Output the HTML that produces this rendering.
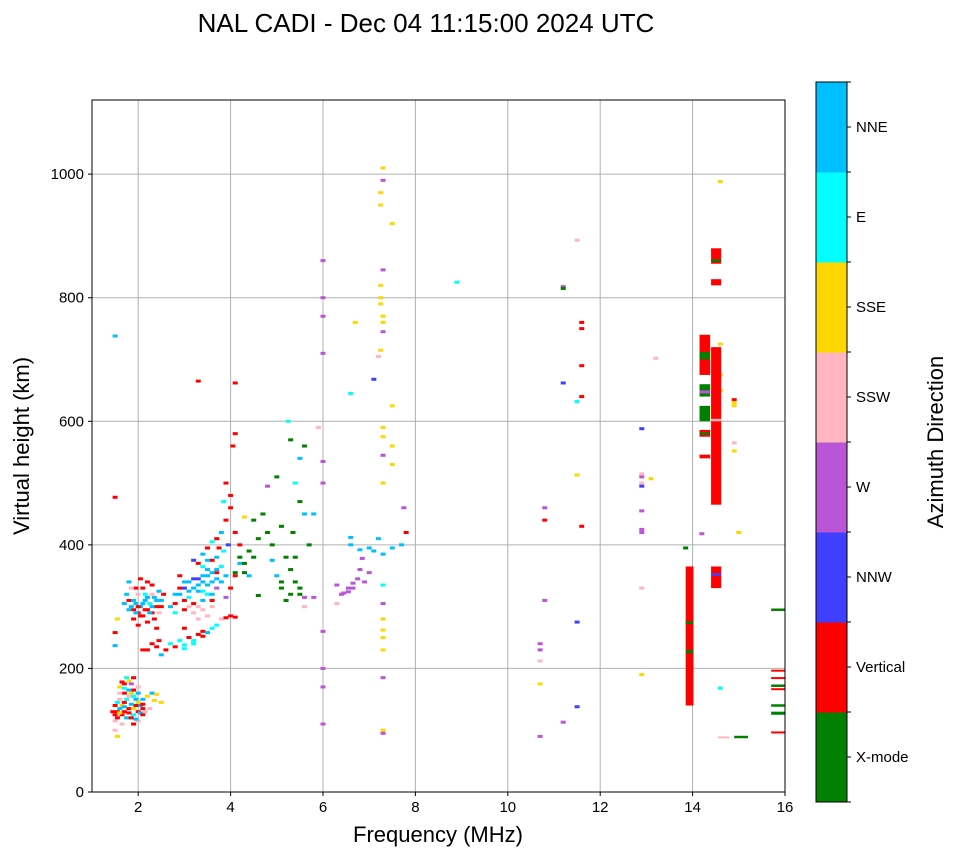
<!DOCTYPE html>
<html><head><meta charset="utf-8"><style>
body{margin:0;background:#fff;font-family:"Liberation Sans",sans-serif}
svg text{font-family:"Liberation Sans",sans-serif}
</style></head><body>
<svg id="chart" width="958" height="857" xmlns="http://www.w3.org/2000/svg">
<text x="426" y="32" font-size="26" text-anchor="middle">NAL CADI - Dec 04 11:15:00 2024 UTC</text>
<g id="grid"></g>
<g id="marks"></g>
<rect x="92" y="100" width="693" height="692" fill="none" stroke="#000" stroke-width="1"/>
<g id="axes"></g>
<text x="438" y="842" font-size="22" text-anchor="middle">Frequency (MHz)</text>
<text transform="translate(29,446) rotate(-90)" font-size="22" text-anchor="middle">Virtual height (km)</text>
<g id="cbar"></g>
<text transform="translate(943,442) rotate(-90)" font-size="22" text-anchor="middle">Azimuth Direction</text>
</svg>
<script>
const dirLabels=["X-mode","Vertical","NNW","W","SSW","SSE","E","NNE"];
const dirColors=["#008000","#ff0000","#3f3fff","#b956d6","#ffb6c1","#ffd700","#00ffff","#00bfff"];
const xTicks=[2,4,6,8,10,12,14,16];
const yTicks=[0,200,400,600,800,1000];
const echoes=[
[1.5,100,4],[1.5,115,4],[1.55,90,5],[1.5,125,1],[1.55,130,1],[1.6,135,7],[1.65,140,5],[1.7,145,1],[1.75,150,6],[1.8,155,4],[1.85,160,5],[1.9,165,1],[1.6,170,5],[1.7,175,1],[1.8,180,5],[1.75,185,6],[1.85,175,3],[1.95,150,7],[2.0,145,5],[2.05,140,7],[2.1,135,1],[2.0,130,1],[1.9,125,6],[1.8,120,5],[1.7,130,1],[1.65,125,1],[1.55,120,1],[1.6,150,4],[1.7,160,1],[1.95,140,1],[2.15,130,4],[2.2,155,5],[2.3,160,7],[2.4,158,5],[2.5,145,5],[2.35,148,5],[1.5,140,1],[1.45,130,1],[1.9,110,1],[2.0,115,4],[1.8,135,1],[2.1,150,7],[2.25,135,4],[2.0,170,4],[1.9,185,1],[1.65,110,4],[1.75,120,7],
[1.55,145,6],[1.6,128,5],[1.7,138,7],[1.8,128,1],[1.85,142,7],[1.9,135,5],[2.05,128,7],[2.1,142,1],[1.6,160,4],[1.7,168,6],[1.8,165,7],[1.9,155,6],[2.0,160,7],[1.65,178,1],[1.85,120,1],[1.95,118,7],[2.1,125,1],
[1.5,738,7],[1.5,477,1],[1.5,258,1],[1.5,237,7],[1.55,280,5],
[1.75,320,7],[1.8,310,1],[1.85,300,7],[1.9,295,1],[1.95,305,7],[2.0,290,1],[2.05,300,7],[2.1,285,1],[2.15,310,7],[2.2,295,1],[2.25,305,6],[2.3,290,1],[2.35,315,7],[2.4,300,1],[2.45,325,7],[2.5,310,7],[2.55,320,1],[2.0,320,4],[2.1,330,1],[2.2,340,1],[2.3,335,1],[1.8,340,7],[1.9,280,1],[2.0,270,1],[2.2,275,1],[2.4,265,1],[2.3,240,1],[2.1,230,1],[2.4,235,1],[2.6,230,1],[2.5,222,7],[1.95,330,1],[2.05,345,1],[2.15,320,6],[1.7,305,7],[1.85,330,4],[2.45,290,4],[2.3,320,4],
[1.8,295,7],[1.9,310,7],[2.0,300,1],[2.05,285,1],[2.1,305,7],[2.2,315,7],[2.25,290,7],[2.3,300,7],[2.4,310,7],[2.5,300,1],[1.95,290,7],[2.15,295,1],[2.35,280,1],[2.45,245,1],[2.2,230,1],
[2.7,240,6],[2.8,235,1],[2.9,245,6],[3.0,238,6],[3.1,250,1],[3.2,245,6],[3.3,255,1],[3.4,260,1],[3.5,258,7],[3.6,265,6],[3.7,270,6],[3.8,280,4],[3.9,282,1],[4.0,285,1],[4.1,283,1],[2.7,300,7],[2.8,320,7],[2.9,330,1],[3.0,340,7],[3.1,325,7],[3.2,345,2],[3.3,335,7],[3.4,350,7],[3.5,360,7],[3.6,340,7],[3.7,355,1],[3.8,365,6],[3.9,350,7],[2.9,350,1],[3.0,310,1],[3.1,300,4],[3.2,290,4],[3.3,300,4],[3.4,295,4],[3.6,300,4],[3.5,320,6],[3.3,370,1],[3.4,385,7],[3.5,395,1],[3.6,405,6],[3.7,410,1],[3.8,420,7],[3.9,440,1],[4.0,460,1],[4.0,480,1],[3.9,500,1],[4.05,560,1],[4.1,580,1],[3.85,470,6],[3.75,395,1],[3.95,400,2],[3.2,375,2],[2.8,290,6],[3.0,265,1],[3.7,330,3],[3.9,315,3],[4.0,330,1],[4.1,350,1],[4.2,370,7],[4.2,400,1],[4.1,420,1],[3.6,375,1],[3.3,665,1],[4.1,662,1],
[2.9,320,7],[3.0,330,2],[3.1,340,7],[3.2,330,7],[3.3,345,2],[3.4,340,7],[3.5,350,7],[3.6,355,7],[3.7,345,7],[3.8,340,7],[3.3,325,7],[3.5,335,7],[3.1,315,6],[3.4,325,6],[3.6,320,7],[3.7,360,7],[3.5,375,7],[3.4,365,6],[2.8,305,1],[3.0,295,1],[3.2,305,1],[3.4,310,7],[3.6,310,1],[3.3,280,4],[3.5,285,4],[3.0,232,6],[3.2,240,6],[3.4,252,1],[3.7,380,7],[3.85,390,6],
[4.1,355,0],[4.3,370,0],[4.4,390,0],[4.5,380,0],[4.6,410,0],[4.7,450,0],[4.8,420,0],[4.9,400,0],[5.0,510,0],[5.1,430,0],[5.2,380,0],[5.3,360,0],[5.4,340,0],[5.5,320,0],[5.35,420,0],[5.5,470,0],[5.6,560,0],[5.3,570,0],[5.7,400,0],[4.6,318,0],[5.1,330,0],[5.2,310,0],[5.4,500,6],[5.5,540,7],[5.25,600,6],[4.9,375,7],[5.0,350,7],[4.4,350,7],[4.3,445,5],[4.8,495,3],[5.6,450,7],[5.8,450,7],[5.9,590,4],[5.6,315,3],[5.8,315,3],[5.6,300,4],
[4.2,380,0],[4.3,355,0],[5.1,340,0],[5.4,380,0],[5.5,330,0],[5.3,320,0],[4.5,440,0],
[6.0,860,3],[6.0,800,3],[6.0,770,3],[6.0,710,3],[6.0,535,3],[6.0,500,3],[6.0,260,3],[6.0,200,3],[6.0,170,3],[6.0,110,3],[6.3,335,3],[6.4,320,3],[6.55,330,3],[6.65,338,3],[6.75,345,3],[6.8,360,3],[6.9,340,3],[6.6,400,7],[6.8,392,7],[7.0,395,7],[7.1,390,7],[7.3,385,7],[7.5,395,7],[7.7,400,7],[7.2,410,7],[6.6,645,6],[6.7,760,5],[7.1,668,2],[7.2,705,4],[7.8,420,1],[7.75,460,3],[7.0,355,3],[6.85,378,3],[6.6,412,7],[6.3,305,4],
[6.45,322,3],[6.55,324,3],[6.65,330,3],
[7.3,1010,5],[7.3,990,3],[7.25,970,5],[7.25,950,5],[7.5,920,5],[7.3,845,3],[7.25,820,5],[7.25,800,5],[7.25,790,5],[7.3,770,5],[7.3,760,5],[7.3,745,3],[7.25,715,5],[7.5,625,5],[7.3,590,5],[7.3,575,5],[7.5,560,5],[7.3,545,3],[7.5,530,5],[7.3,500,5],[7.3,335,6],[7.3,305,3],[7.3,280,5],[7.3,262,5],[7.3,250,5],[7.3,230,5],[7.3,185,3],[7.3,100,5],[7.3,95,3],
[8.9,825,6],[10.8,460,3],[10.8,440,1],[10.8,310,3],[10.7,240,3],[10.7,230,3],[10.7,212,4],[10.7,175,5],[10.7,90,3],[11.2,818,3],[11.2,815,0],[11.2,662,2],[11.5,893,4],[11.5,632,6],[11.5,513,5],[11.5,275,2],[11.5,138,2],[11.2,113,3],[11.6,760,1],[11.6,750,1],[11.6,690,1],[11.6,640,1],[11.6,430,1],
[12.9,588,2],[12.9,515,4],[12.9,510,3],[12.9,500,4],[12.9,495,2],[13.1,507,5],[12.9,455,3],[12.9,425,3],[12.9,420,3],[12.9,330,4],[12.9,190,5],[13.2,702,4],
[14.6,988,5],[14.6,725,5],[14.6,675,5],[14.6,650,5],[15.0,420,5],[14.9,635,1],[14.9,630,5],[14.9,625,5],[14.9,565,4],[14.9,552,5],[14.6,168,6],[13.85,395,0],[14.2,418,3]
];
const spans=[
[13.85,14.02,140,365,1],[13.85,14.02,272,276,0],[13.85,14.02,225,230,0],
[14.15,14.38,675,740,1],[14.15,14.38,700,712,0],[14.15,14.38,640,660,0],[14.15,14.38,645,650,3],[14.15,14.38,600,625,0],[14.15,14.38,575,586,1],[14.15,14.38,578,582,0],[14.15,14.38,540,546,1],
[14.4,14.62,465,720,1],[14.4,14.62,600,604,4],[14.4,14.62,820,830,1],[14.4,14.62,855,880,1],[14.4,14.62,858,862,0],[14.4,14.62,330,365,1],[14.4,14.62,350,354,2],
[15.7,16.0,293,297,0],[15.7,16.0,195,198,1],[15.7,16.0,183,186,1],[15.7,16.0,170,174,0],[15.7,16.0,165,168,1],[15.7,16.0,138,142,0],[15.7,16.0,125,130,0],[15.7,16.0,95,98,1],[14.9,15.2,87,91,0],[14.55,14.8,87,90,4]
];
const NS="http://www.w3.org/2000/svg";
const X0=92,X1=785,Y0=792,Y1=100,FMIN=1,FMAX=16,HMAX=1120;
function xs(f){return X0+(f-FMIN)/(FMAX-FMIN)*(X1-X0);}
function ys(h){return Y0-h/HMAX*(Y0-Y1);}
function mk(tag,attrs,parent){const e=document.createElementNS(NS,tag);for(const k in attrs)e.setAttribute(k,attrs[k]);parent.appendChild(e);return e;}
const grid=document.getElementById('grid'),axes=document.getElementById('axes'),marks=document.getElementById('marks'),cbar=document.getElementById('cbar');
xTicks.forEach(t=>{const x=xs(t);
 const g=mk('line',{x1:x,x2:x,y1:Y1,y2:Y0,stroke:'#b0b0b0','stroke-width':1},grid);
 
 
 const tk=mk('line',{x1:x,x2:x,y1:Y0,y2:Y0+4,stroke:'#000'},axes);
 
 
 const tl=mk('text',{x:x,y:Y0+20,'font-size':15,'text-anchor':'middle'},axes);tl.textContent=t;
 
 
});
yTicks.forEach(t=>{const y=ys(t);
 if(t>0){const g=mk('line',{x1:X0,x2:X1,y1:y,y2:y,stroke:'#b0b0b0','stroke-width':1},grid);
 
 }
 const tk=mk('line',{x1:X0-4,x2:X0,y1:y,y2:y,stroke:'#000'},axes);
 
 
 const tl=mk('text',{x:X0-8,y:y+5,'font-size':15,'text-anchor':'end'},axes);tl.textContent=t;
 
 
});
echoes.forEach(p=>{const x=xs(p[0]),y=ys(p[1]);
 const r=mk('rect',{x:x-2.5,y:y-1.5,width:5,height:3,fill:dirColors[p[2]]},marks);
 
 
});
spans.forEach(s=>{const xa=xs(s[0]),xb=xs(s[1]),ya=ys(s[3]),yb=ys(s[2]);
 const r=mk('rect',{x:xa,y:ya,width:xb-xa,height:Math.max(2,yb-ya),fill:dirColors[s[4]]},marks);
 
 
});
const CX=816,CW=31,CT=82,CB=802,bh=(CB-CT)/dirLabels.length;
dirLabels.forEach((lab,i)=>{const y=CB-(i+1)*bh;
 const r=mk('rect',{x:CX,y:y,width:CW,height:bh+0.5,fill:dirColors[i]},cbar);
 
 
 const tk=mk('line',{x1:CX+CW,x2:CX+CW+4,y1:y+bh/2,y2:y+bh/2,stroke:'#000'},cbar);
 
 
 const t=mk('text',{x:CX+CW+9,y:y+bh/2+5,'font-size':15},cbar);t.textContent=lab;
 
 
});
for(let i=0;i<=dirLabels.length;i++){const y=CB-i*bh;
 const l=mk('line',{x1:CX+CW,x2:CX+CW+4,y1:y,y2:y,stroke:'#000'},cbar);
 
 
}
const fr=mk('rect',{x:CX,y:CT,width:CW,height:CB-CT,fill:'none',stroke:'#000'},cbar);


</script>
</body></html>
